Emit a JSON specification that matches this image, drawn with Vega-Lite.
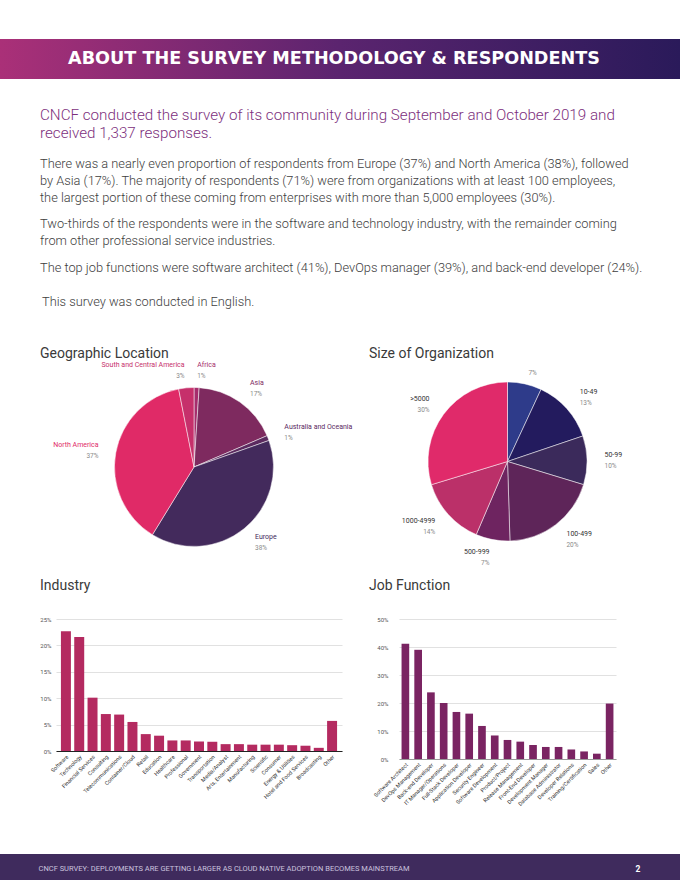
{
  "$schema": "https://vega.github.io/schema/vega-lite/v6.json",
  "padding": {"left": 0, "top": 39, "right": 0, "bottom": 0},
  "background": "#ffffff",
  "spacing": 0,
  "bounds": "full",
  "config": {
    "view": {"stroke": null},
    "font": "Roboto",
    "concat": {"spacing": 0},
    "axis": {"labelFont": "Roboto", "titleFont": "Roboto"}
  },
  "vconcat": [
    {
      "width": 680,
      "height": 40,
      "data": {"values": [{"label": "ABOUT THE SURVEY METHODOLOGY & RESPONDENTS"}]},
      "layer": [
        {
          "mark": {"type": "rect", "color": {"gradient": "linear", "x1": 0, "y1": 0, "x2": 1, "y2": 0, "stops": [{"offset": 0, "color": "#aa3078"}, {"offset": 0.5, "color": "#5b246f"}, {"offset": 1, "color": "#2a1a5a"}]}},
          "encoding": {}
        },
        {
          "mark": {"type": "text", "color": "#ffffff", "font": "DejaVu Sans", "fontWeight": "bold", "fontSize": 17.6, "dx": -6},
          "encoding": {"text": {"field": "label", "type": "nominal"}}
        }
      ]
    },
    {
      "width": 680,
      "height": 126,
      "data": {"values": []},
      "mark": "point",
      "encoding": {},
      "title": {
        "text": ["CNCF conducted the survey of its community during September and October 2019 and", "received 1,337 responses."],
        "subtitle": [
          "There was a nearly even proportion of respondents from Europe (37%) and North America (38%), followed",
          "by Asia (17%). The majority of respondents (71%) were from organizations with at least 100 employees,",
          "the largest portion of these coming from enterprises with more than 5,000 employees (30%)."
        ],
        "anchor": "start",
        "frame": "group",
        "orient": "top",
        "offset": -126,
        "dx": 40,
        "font": "Roboto",
        "fontSize": 15.2,
        "fontWeight": 300,
        "color": "#7d2f7d",
        "lineHeight": 17.7,
        "subtitleFont": "Roboto",
        "subtitleFontSize": 12.8,
        "subtitleFontWeight": 300,
        "subtitleColor": "#3d3d3d",
        "subtitleLineHeight": 17.3,
        "subtitlePadding": 16.5
      }
    },
    {
      "width": 680,
      "height": 69.5,
      "data": {"values": []},
      "mark": "point",
      "encoding": {},
      "title": {
        "text": ["Two-thirds of the respondents were in the software and technology industry, with the remainder coming", "from other professional service industries."],
        "subtitle": "The top job functions were software architect (41%), DevOps manager (39%), and back-end developer (24%).",
        "anchor": "start",
        "frame": "group",
        "orient": "top",
        "offset": -69.5,
        "dx": 40,
        "font": "Roboto",
        "fontSize": 12.8,
        "fontWeight": 300,
        "color": "#3d3d3d",
        "lineHeight": 17.3,
        "subtitleFont": "Roboto",
        "subtitleFontSize": 12.8,
        "subtitleFontWeight": 300,
        "subtitleColor": "#3d3d3d",
        "subtitleLineHeight": 17.3,
        "subtitlePadding": 14
      }
    },
    {
      "width": 680,
      "height": 71.5,
      "data": {"values": []},
      "mark": "point",
      "encoding": {},
      "title": {
        "text": "This survey was conducted in English.",
        "anchor": "start",
        "frame": "group",
        "orient": "top",
        "offset": -34,
        "dx": 42,
        "font": "Roboto",
        "fontSize": 12.8,
        "fontWeight": 300,
        "color": "#3d3d3d"
      }
    },
    {
      "bounds": "flush",
      "spacing": 0,
      "resolve": {"scale": {"color": "independent", "theta": "independent"}},
      "hconcat": [
        {
          "width": 388,
          "height": 224,
          "title": {"text": "Geographic Location", "anchor": "start", "frame": "group", "dx": 40, "offset": -6, "fontSize": 14, "fontWeight": 400, "color": "#3a3a3a", "font": "Roboto"},
          "data": {"values": [
            {"region": "Africa", "share": 0.01},
            {"region": "Asia", "share": 0.17},
            {"region": "Australia and Oceania", "share": 0.01},
            {"region": "Europe", "share": 0.38},
            {"region": "North America", "share": 0.37},
            {"region": "South and Central America", "share": 0.03}
          ]},
          "transform": [{"window": [{"op": "row_number", "as": "rank"}]}],
          "encoding": {
            "theta": {"field": "share", "type": "quantitative", "stack": true},
            "order": {"field": "rank", "type": "quantitative"}
          },
          "layer": [
            {
              "mark": {"type": "arc", "outerRadius": 79.5, "stroke": "#ffffff", "strokeWidth": 0.5},
              "encoding": {"color": {"field": "region", "type": "nominal", "legend": null,
                "scale": {"domain": ["Africa", "Asia", "Australia and Oceania", "Europe", "North America", "South and Central America"],
                          "range": ["#a52d6c", "#7e2a5f", "#5b2a5f", "#432a5c", "#e02a67", "#c6306b"]}}}
            },
            {
              "mark": {"type": "text", "radius": 97, "dy": -5, "fontSize": 7,
                       "align": {"expr": "indexof(['North America','South and Central America'], datum.region) >= 0 ? 'right' : 'left'"}},
              "encoding": {
                "color": {"field": "region", "type": "nominal", "legend": null},
                "text": {"field": "region", "type": "nominal"}
              }
            },
            {
              "mark": {"type": "text", "radius": 97, "dy": 6, "fontSize": 6.5, "color": "#8a8a8a",
                       "align": {"expr": "indexof(['North America','South and Central America'], datum.region) >= 0 ? 'right' : 'left'"}},
              "encoding": {
                "detail": {"field": "region", "type": "nominal"},
                "text": {"field": "share", "type": "quantitative", "format": ".0%"}
              }
            }
          ]
        },
        {
          "width": 239,
          "height": 213,
          "title": {"text": "Size of Organization", "anchor": "start", "frame": "group", "dx": -19, "offset": -6, "fontSize": 14, "fontWeight": 400, "color": "#3a3a3a", "font": "Roboto"},
          "data": {"values": [
            {"size": "1-9", "share": 0.07},
            {"size": "10-49", "share": 0.13},
            {"size": "50-99", "share": 0.10},
            {"size": "100-499", "share": 0.20},
            {"size": "500-999", "share": 0.07},
            {"size": "1000-4999", "share": 0.14},
            {"size": ">5000", "share": 0.30}
          ]},
          "transform": [{"window": [{"op": "row_number", "as": "rank"}]}],
          "encoding": {
            "theta": {"field": "share", "type": "quantitative", "stack": true},
            "order": {"field": "rank", "type": "quantitative"}
          },
          "layer": [
            {
              "mark": {"type": "arc", "outerRadius": 79.5, "stroke": "#ffffff", "strokeWidth": 0.5},
              "encoding": {"color": {"field": "size", "type": "nominal", "legend": null,
                "scale": {"domain": ["1-9", "10-49", "50-99", "100-499", "500-999", "1000-4999", ">5000"],
                          "range": ["#2e3b8a", "#231b5e", "#3b2a5b", "#5e2559", "#6e2460", "#bb3069", "#e02a6a"]}}}
            },
            {
              "mark": {"type": "text", "radius": 97, "dy": -5, "fontSize": 7, "color": "#333333",
                       "align": {"expr": "indexof(['500-999','1000-4999','>5000'], datum.size) >= 0 ? 'right' : 'left'"}},
              "encoding": {
                "detail": {"field": "size", "type": "nominal"},
                "text": {"condition": {"test": "datum.size != '1-9'", "field": "size", "type": "nominal"}, "value": ""}
              }
            },
            {
              "mark": {"type": "text", "radius": 97, "dy": 6, "fontSize": 6.5, "color": "#8a8a8a",
                       "align": {"expr": "indexof(['500-999','1000-4999','>5000'], datum.size) >= 0 ? 'right' : 'left'"}},
              "encoding": {
                "detail": {"field": "size", "type": "nominal"},
                "text": {"field": "share", "type": "quantitative", "format": ".0%"}
              }
            }
          ]
        }
      ]
    },
    {
      "bounds": "flush",
      "spacing": 0,
      "hconcat": [
        {"width": 56, "height": 235, "data": {"values": []}, "mark": "point", "encoding": {}},
        {
          "width": 286,
          "height": 132,
          "title": {"text": "Industry", "anchor": "start", "frame": "group", "dx": -16, "offset": 23, "fontSize": 14, "fontWeight": 400, "color": "#3a3a3a", "font": "Roboto"},
          "data": {"values": [
            {"industry": "Software", "pct": 22.7},
            {"industry": "Technology", "pct": 21.6},
            {"industry": "Financial Services", "pct": 10.1},
            {"industry": "Consulting", "pct": 7.0},
            {"industry": "Telecommunications", "pct": 6.9},
            {"industry": "Container/Cloud", "pct": 5.5},
            {"industry": "Retail", "pct": 3.2},
            {"industry": "Education", "pct": 2.9},
            {"industry": "Healthcare", "pct": 2.0},
            {"industry": "Professional", "pct": 2.0},
            {"industry": "Government", "pct": 1.8},
            {"industry": "Transportation", "pct": 1.75},
            {"industry": "Media/Analyst", "pct": 1.3},
            {"industry": "Arts, Entertainment", "pct": 1.3},
            {"industry": "Manufacturing", "pct": 1.2},
            {"industry": "Scientific", "pct": 1.2},
            {"industry": "Consumer", "pct": 1.2},
            {"industry": "Energy & Utilities", "pct": 1.1},
            {"industry": "Hotel and Food Services", "pct": 1.0},
            {"industry": "Broadcasting", "pct": 0.6},
            {"industry": "Other", "pct": 5.7}
          ]},
          "mark": {"type": "bar", "color": "#b42a60"},
          "encoding": {
            "x": {"field": "industry", "type": "nominal", "sort": null,
                  "scale": {"paddingInner": 0.25, "paddingOuter": 0.37},
                  "axis": {"title": null, "labelAngle": -45, "labelFontSize": 5.5, "labelColor": "#333333", "ticks": false, "domainColor": "#222222", "domainWidth": 1, "labelPadding": 3}},
            "y": {"field": "pct", "type": "quantitative", "scale": {"domain": [0, 25]},
                  "axis": {"title": null, "values": [0, 5, 10, 15, 20, 25], "labelExpr": "datum.value + '%'", "labelFontSize": 6, "labelColor": "#555555", "domain": false, "ticks": false, "gridColor": "#cccccc", "gridWidth": 0.6, "labelPadding": 5}}
          }
        },
        {"width": 57, "height": 1, "data": {"values": []}, "mark": "point", "encoding": {}},
        {
          "width": 217,
          "height": 140,
          "title": {"text": "Job Function", "anchor": "start", "frame": "group", "dx": -30, "offset": 23, "fontSize": 14, "fontWeight": 400, "color": "#3a3a3a", "font": "Roboto"},
          "data": {"values": [
            {"job": "Software Architect", "pct": 41.2},
            {"job": "DevOps Management", "pct": 39.0},
            {"job": "Back-end Developer", "pct": 23.8},
            {"job": "IT Manager/Operations", "pct": 20.0},
            {"job": "Full-Stack Developer", "pct": 16.8},
            {"job": "Application Developer", "pct": 16.2},
            {"job": "Security Engineer", "pct": 11.8},
            {"job": "Software Development", "pct": 8.4},
            {"job": "Product/Project", "pct": 6.8},
            {"job": "Release Management", "pct": 6.2},
            {"job": "Front-End Developer", "pct": 5.0},
            {"job": "Development Manager", "pct": 4.3},
            {"job": "Database Administrator", "pct": 4.3},
            {"job": "Developer Relations", "pct": 3.4},
            {"job": "Training/Certification", "pct": 2.7},
            {"job": "Sales", "pct": 1.9},
            {"job": "Other", "pct": 19.8}
          ]},
          "mark": {"type": "bar", "color": "#7a2462"},
          "encoding": {
            "x": {"field": "job", "type": "nominal", "sort": null,
                  "scale": {"paddingInner": 0.4, "paddingOuter": 0.2},
                  "axis": {"title": null, "labelAngle": -45, "labelFontSize": 5.5, "labelColor": "#333333", "ticks": false, "domainColor": "#888888", "domainWidth": 0.8, "labelPadding": 3}},
            "y": {"field": "pct", "type": "quantitative", "scale": {"domain": [0, 50]},
                  "axis": {"title": null, "values": [0, 10, 20, 30, 40, 50], "labelExpr": "datum.value + '%'", "labelFontSize": 6, "labelColor": "#555555", "domain": false, "ticks": false, "gridColor": "#cccccc", "gridWidth": 0.6, "labelPadding": 11}}
          }
        }
      ]
    },
    {
      "bounds": "flush",
      "spacing": 0,
      "hconcat": [
        {
          "width": 448,
          "height": 29,
          "data": {"values": [{"t": "CNCF SURVEY: DEPLOYMENTS ARE GETTING LARGER AS CLOUD NATIVE ADOPTION BECOMES MAINSTREAM"}]},
          "layer": [
            {"mark": {"type": "rect", "color": "#3f2b5d"}, "encoding": {}},
            {"mark": {"type": "text", "color": "#cbc3df", "fontSize": 7.5, "font": "Roboto"}, "encoding": {"text": {"field": "t", "type": "nominal"}}}
          ]
        },
        {
          "width": 152,
          "height": 29,
          "data": {"values": [{"t": ""}]},
          "mark": {"type": "rect", "color": "#3f2b5d"},
          "encoding": {}
        },
        {
          "width": 80,
          "height": 29,
          "data": {"values": [{"t": "2"}]},
          "layer": [
            {"mark": {"type": "rect", "color": "#3f2b5d"}, "encoding": {}},
            {"mark": {"type": "text", "color": "#ffffff", "fontSize": 8.5, "fontWeight": "bold", "font": "Roboto", "dx": -2}, "encoding": {"text": {"field": "t", "type": "nominal"}}}
          ]
        }
      ]
    }
  ]
}
